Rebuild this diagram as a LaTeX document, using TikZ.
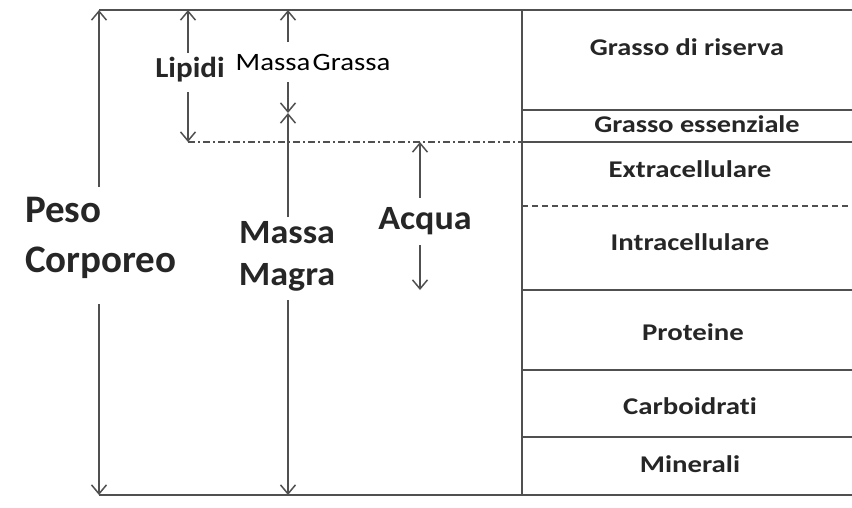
\documentclass[tikz,border=0pt]{standalone}
\usepackage{graphicx}
\usepackage{fontspec}
\setmainfont{Carlito}[Ligatures=NoCommon]
\usetikzlibrary{arrows.meta}
\definecolor{ln}{HTML}{505050}
\definecolor{tx}{HTML}{262626}
\newcommand{\hstretch}[2]{\scalebox{#1}[1]{#2}}
\tikzset{
  frame/.style={draw=ln, line width=2.2pt},
  sep/.style={draw=ln, line width=1.8pt},
  arr/.style={draw=ln, line width=1.5pt, -{Straight Barb[length=9pt,width=15pt,line width=1.5pt]}},
  lbl/.style={inner sep=0pt, text=tx, font=\bfseries},
  rlbl/.style={lbl, anchor=base, font=\bfseries\fontsize{24}{24}\selectfont},
  big/.style={lbl, font=\bfseries\fontsize{39}{39}\selectfont},
  mid/.style={lbl, anchor=base, font=\bfseries\fontsize{34}{34}\selectfont},
}
\begin{document}
\begin{tikzpicture}[x=1pt,y=-1pt]
\useasboundingbox (0,0) rectangle (852,507);
% frame
\coordinate (tl) at (99,10);
\coordinate (tr) at (852,10);
\coordinate (bl) at (99,495);
\coordinate (br) at (852,495);
\coordinate (vt) at (522,10);
\coordinate (vb) at (522,495);
\draw[frame] (tl) -- (tr);
\draw[frame] (bl) -- (br);
\draw[sep] (vt) -- (vb);
% right separators
\foreach \n/\y in {a/110,b/142,d/290,e/370,f/437}{
  \coordinate (l\n) at (522,\y); \coordinate (r\n) at (852,\y);
  \draw[sep] (l\n) -- (r\n);
}
\coordinate (lc) at (522,206); \coordinate (rc) at (852,206);
\draw[sep, line width=1.4pt, dash pattern=on 6pt off 4pt] (lc) -- (rc);
\coordinate (dd) at (188,142);
\draw[sep, line width=1.4pt, dash pattern=on 7pt off 3pt on 2pt off 3pt] (dd) -- (lb);
% right labels
\node[rlbl] (gr) at (687,55) {\hstretch{1.18}{Grasso di riserva}};
\node[rlbl] (ge) at (697,132) {\hstretch{1.18}{Grasso essenziale}};
\node[rlbl] (ex) at (690,177) {\hstretch{1.2}{Extracellulare}};
\node[rlbl] (in) at (690,250) {\hstretch{1.2}{Intracellulare}};
\node[rlbl] (pr) at (693,340) {\hstretch{1.2}{Proteine}};
\node[rlbl] (ca) at (690,414) {\hstretch{1.2}{Carboidrati}};
\node[rlbl] (mi) at (690,472) {\hstretch{1.2}{Minerali}};
% left labels
\node[big, anchor=base west] (peso) at (25,222) {Peso};
\node[big, anchor=base west] (corp) at (25,272) {Corporeo};
\node[lbl, anchor=base, font=\bfseries\fontsize{29}{29}\selectfont] (lip) at (190,77) {\hstretch{1.07}{Lipidi}};
\node[lbl, anchor=base, text=black, font=\fontsize{25}{25}\selectfont] (mg) at (313,70) {\hstretch{1.15}{Massa\hspace{2pt}Grassa}};
\node[mid] (mm1) at (287,243) {\hstretch{1.06}{Massa}};
\node[mid] (mm2) at (287,285) {\hstretch{1.06}{Magra}};
\node[mid] (acq) at (425,229) {\hstretch{1.06}{Acqua}};
% arrows
\coordinate (p1) at (99,187); \coordinate (p2) at (99,304);
\draw[arr] (p1) -- (tl);
\draw[arr] (p2) -- (bl);
\coordinate (l1) at (188,53); \coordinate (l2) at (188,92); \coordinate (ltop) at (188,10);
\draw[arr] (l1) -- (ltop);
\draw[arr] (l2) -- (dd);
\coordinate (g1) at (288,42); \coordinate (g2) at (288,82); \coordinate (gtop) at (288,10); \coordinate (gmid) at (288,113);
\draw[arr] (g1) -- (gtop);
\draw[arr] (g2) -- (gmid);
\coordinate (m1) at (288,217); \coordinate (m2) at (288,300); \coordinate (mbot) at (288,495);
\draw[arr] (m1) -- (gmid);
\draw[arr] (m2) -- (mbot);
\coordinate (a1) at (420,198); \coordinate (a2) at (420,245); \coordinate (atop) at (420,142); \coordinate (abot) at (420,290);
\draw[arr] (a1) -- (atop);
\draw[arr] (a2) -- (abot);
\end{tikzpicture}
\end{document}
